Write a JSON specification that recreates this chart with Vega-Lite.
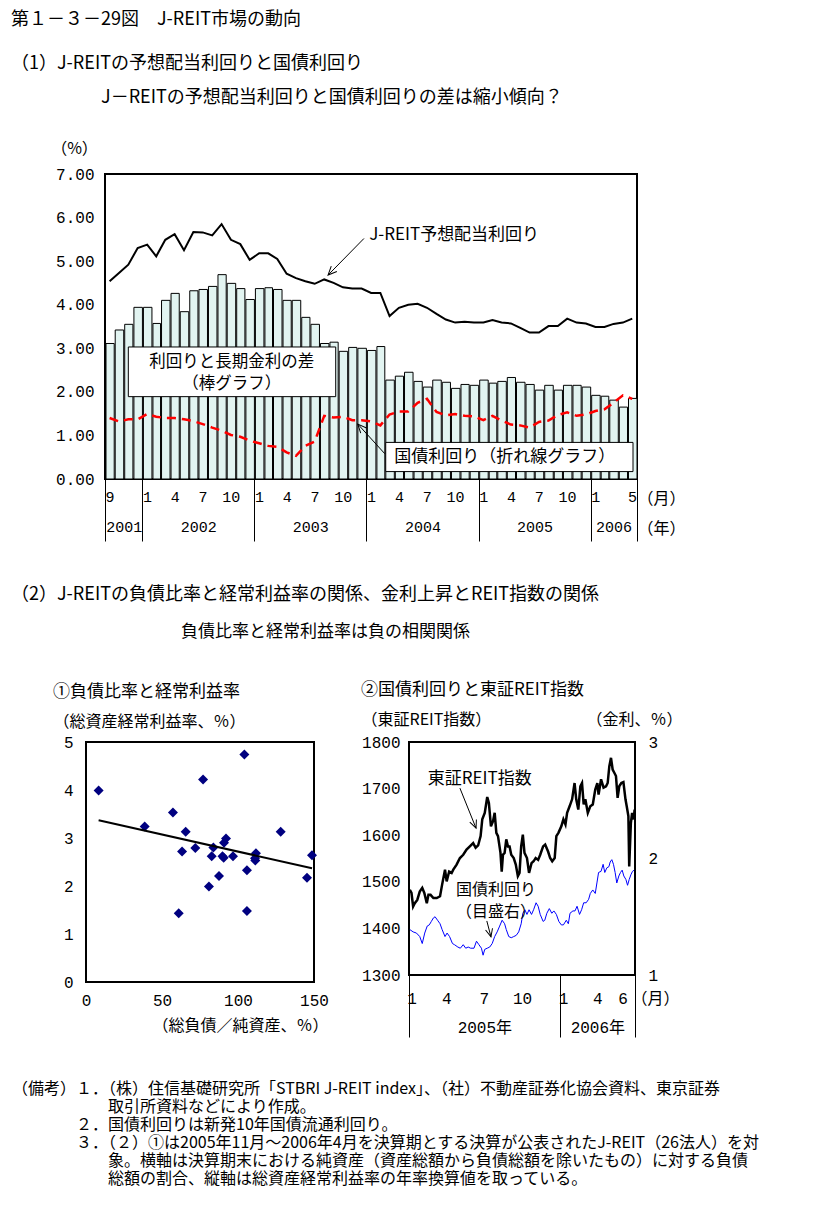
{
  "$schema": "https://vega.github.io/schema/vega-lite/v6.json",
  "background": "white",
  "padding": {"left": 10, "top": 10, "right": 5, "bottom": 5},
  "spacing": 43,
  "title": {
    "text": [
      "（備考）１．（株）住信基礎研究所「STBRI J-REIT index」、（社）不動産証券化協会資料、東京証券",
      "\u200b　　　　　　取引所資料などにより作成。",
      "\u200b　　　　２．国債利回りは新発10年国債流通利回り。",
      "\u200b　　　　３．（２）①は2005年11月～2006年4月を決算期とする決算が公表されたJ-REIT（26法人）を対",
      "\u200b　　　　　　象。横軸は決算期末における純資産（資産総額から負債総額を除いたもの）に対する負債",
      "\u200b　　　　　　総額の割合、縦軸は総資産経常利益率の年率換算値を取っている。"
    ],
    "orient": "bottom", "anchor": "start", "frame": "group", "dx": -74, "offset": 42,
    "fontSize": 16, "lineHeight": 18
  },
  "config": {
    "font": "Noto Sans CJK JP",
    "view": {"stroke": "black", "strokeWidth": 2},
    "axis": {"grid": false, "domain": false, "ticks": false, "labelFont": "Liberation Mono", "labelColor": "black", "labelFontSize": 16, "labelFontWeight": "normal", "titleFont": "Noto Sans CJK JP", "titleFontWeight": "normal", "titleColor": "black", "titleFontSize": 16, "tickColor": "black", "labelOverlap": false, "labelFlush": false},
    "title": {"font": "Noto Sans CJK JP", "fontWeight": "normal", "color": "black", "subtitleFont": "Noto Sans CJK JP", "subtitleColor": "black", "subtitleFontWeight": "normal"},
    "text": {"font": "Noto Sans CJK JP", "color": "black", "fontSize": 17}
  },
  "datasets": {
    "jreit": [
      {"month": "2001-09-01", "gap": 3.11, "reit": 4.54, "jgb": 1.40},
      {"month": "2001-10-01", "gap": 3.42, "reit": 4.73, "jgb": 1.32},
      {"month": "2001-11-01", "gap": 3.55, "reit": 4.92, "jgb": 1.37},
      {"month": "2001-12-01", "gap": 3.94, "reit": 5.30, "jgb": 1.37},
      {"month": "2002-01-01", "gap": 3.94, "reit": 5.38, "jgb": 1.49},
      {"month": "2002-02-01", "gap": 3.57, "reit": 5.11, "jgb": 1.43},
      {"month": "2002-03-01", "gap": 4.10, "reit": 5.49, "jgb": 1.40},
      {"month": "2002-04-01", "gap": 4.26, "reit": 5.62, "jgb": 1.40},
      {"month": "2002-05-01", "gap": 3.84, "reit": 5.25, "jgb": 1.37},
      {"month": "2002-06-01", "gap": 4.32, "reit": 5.67, "jgb": 1.33},
      {"month": "2002-07-01", "gap": 4.35, "reit": 5.66, "jgb": 1.26},
      {"month": "2002-08-01", "gap": 4.42, "reit": 5.59, "jgb": 1.18},
      {"month": "2002-09-01", "gap": 4.69, "reit": 5.85, "jgb": 1.11},
      {"month": "2002-10-01", "gap": 4.49, "reit": 5.49, "jgb": 1.01},
      {"month": "2002-11-01", "gap": 4.37, "reit": 5.39, "jgb": 0.97},
      {"month": "2002-12-01", "gap": 4.12, "reit": 5.03, "jgb": 0.88},
      {"month": "2003-01-01", "gap": 4.37, "reit": 5.18, "jgb": 0.82},
      {"month": "2003-02-01", "gap": 4.39, "reit": 5.18, "jgb": 0.76},
      {"month": "2003-03-01", "gap": 4.35, "reit": 5.05, "jgb": 0.74},
      {"month": "2003-04-01", "gap": 4.10, "reit": 4.71, "jgb": 0.61},
      {"month": "2003-05-01", "gap": 4.10, "reit": 4.61, "jgb": 0.53},
      {"month": "2003-06-01", "gap": 3.71, "reit": 4.54, "jgb": 0.76},
      {"month": "2003-07-01", "gap": 3.55, "reit": 4.48, "jgb": 0.86},
      {"month": "2003-08-01", "gap": 3.11, "reit": 4.58, "jgb": 1.45},
      {"month": "2003-09-01", "gap": 3.14, "reit": 4.50, "jgb": 1.41},
      {"month": "2003-10-01", "gap": 2.93, "reit": 4.40, "jgb": 1.43},
      {"month": "2003-11-01", "gap": 3.02, "reit": 4.37, "jgb": 1.35},
      {"month": "2003-12-01", "gap": 3.00, "reit": 4.37, "jgb": 1.35},
      {"month": "2004-01-01", "gap": 2.95, "reit": 4.27, "jgb": 1.32},
      {"month": "2004-02-01", "gap": 3.04, "reit": 4.27, "jgb": 1.23},
      {"month": "2004-03-01", "gap": 2.27, "reit": 3.74, "jgb": 1.48},
      {"month": "2004-04-01", "gap": 2.36, "reit": 3.93, "jgb": 1.55},
      {"month": "2004-05-01", "gap": 2.45, "reit": 4.00, "jgb": 1.55},
      {"month": "2004-06-01", "gap": 2.24, "reit": 4.02, "jgb": 1.75},
      {"month": "2004-07-01", "gap": 2.11, "reit": 3.93, "jgb": 1.84},
      {"month": "2004-08-01", "gap": 2.27, "reit": 3.79, "jgb": 1.54},
      {"month": "2004-09-01", "gap": 2.22, "reit": 3.66, "jgb": 1.46},
      {"month": "2004-10-01", "gap": 2.08, "reit": 3.59, "jgb": 1.49},
      {"month": "2004-11-01", "gap": 2.17, "reit": 3.61, "jgb": 1.45},
      {"month": "2004-12-01", "gap": 2.15, "reit": 3.59, "jgb": 1.44},
      {"month": "2005-01-01", "gap": 2.27, "reit": 3.59, "jgb": 1.35},
      {"month": "2005-02-01", "gap": 2.20, "reit": 3.65, "jgb": 1.45},
      {"month": "2005-03-01", "gap": 2.24, "reit": 3.59, "jgb": 1.34},
      {"month": "2005-04-01", "gap": 2.33, "reit": 3.57, "jgb": 1.25},
      {"month": "2005-05-01", "gap": 2.22, "reit": 3.47, "jgb": 1.23},
      {"month": "2005-06-01", "gap": 2.17, "reit": 3.36, "jgb": 1.18},
      {"month": "2005-07-01", "gap": 2.04, "reit": 3.36, "jgb": 1.31},
      {"month": "2005-08-01", "gap": 2.15, "reit": 3.51, "jgb": 1.34},
      {"month": "2005-09-01", "gap": 2.04, "reit": 3.51, "jgb": 1.47},
      {"month": "2005-10-01", "gap": 2.15, "reit": 3.68, "jgb": 1.53},
      {"month": "2005-11-01", "gap": 2.15, "reit": 3.59, "jgb": 1.45},
      {"month": "2005-12-01", "gap": 2.11, "reit": 3.57, "jgb": 1.48},
      {"month": "2006-01-01", "gap": 1.92, "reit": 3.49, "jgb": 1.56},
      {"month": "2006-02-01", "gap": 1.90, "reit": 3.49, "jgb": 1.60},
      {"month": "2006-03-01", "gap": 1.81, "reit": 3.56, "jgb": 1.75},
      {"month": "2006-04-01", "gap": 1.65, "reit": 3.59, "jgb": 1.92},
      {"month": "2006-05-01", "gap": 1.85, "reit": 3.68, "jgb": 1.84}
    ],
    "scatter": [
      {"debt": 8.3, "roa": 3.99}, {"debt": 38.6, "roa": 3.24}, {"debt": 57.2, "roa": 3.53},
      {"debt": 77.0, "roa": 4.22}, {"debt": 104.2, "roa": 4.74}, {"debt": 65.6, "roa": 3.13},
      {"debt": 63.2, "roa": 2.72}, {"debt": 61.0, "roa": 1.43}, {"debt": 71.9, "roa": 2.79},
      {"debt": 80.9, "roa": 1.99}, {"debt": 82.7, "roa": 2.62}, {"debt": 83.8, "roa": 2.80},
      {"debt": 87.5, "roa": 2.21}, {"debt": 90.6, "roa": 2.59}, {"debt": 89.8, "roa": 2.62},
      {"debt": 90.8, "roa": 2.90}, {"debt": 92.1, "roa": 2.99}, {"debt": 96.7, "roa": 2.62},
      {"debt": 105.9, "roa": 2.33}, {"debt": 105.9, "roa": 1.48}, {"debt": 111.2, "roa": 2.58},
      {"debt": 111.8, "roa": 2.68}, {"debt": 111.4, "roa": 2.53}, {"debt": 128.1, "roa": 3.13},
      {"debt": 145.4, "roa": 2.17}, {"debt": 148.7, "roa": 2.64}
    ],
    "trend": [{"debt": 8.3, "roa": 3.37}, {"debt": 148.7, "roa": 2.37}],
    "reitidx": [
      {"date": "2005-01-03", "idx": 1483}, {"date": "2005-01-07", "idx": 1476}, {"date": "2005-01-11", "idx": 1447},
      {"date": "2005-01-15", "idx": 1454}, {"date": "2005-01-21", "idx": 1461}, {"date": "2005-01-27", "idx": 1479},
      {"date": "2005-02-02", "idx": 1487}, {"date": "2005-02-07", "idx": 1476}, {"date": "2005-02-13", "idx": 1454},
      {"date": "2005-02-17", "idx": 1472}, {"date": "2005-02-22", "idx": 1472}, {"date": "2005-03-01", "idx": 1465},
      {"date": "2005-03-09", "idx": 1465}, {"date": "2005-03-17", "idx": 1469}, {"date": "2005-03-22", "idx": 1494},
      {"date": "2005-03-29", "idx": 1526}, {"date": "2005-04-02", "idx": 1501}, {"date": "2005-04-08", "idx": 1522},
      {"date": "2005-04-14", "idx": 1519}, {"date": "2005-04-18", "idx": 1526}, {"date": "2005-04-26", "idx": 1537},
      {"date": "2005-05-04", "idx": 1551}, {"date": "2005-05-12", "idx": 1558}, {"date": "2005-05-20", "idx": 1569},
      {"date": "2005-05-28", "idx": 1576}, {"date": "2005-06-05", "idx": 1583}, {"date": "2005-06-11", "idx": 1573},
      {"date": "2005-06-17", "idx": 1578}, {"date": "2005-06-23", "idx": 1598}, {"date": "2005-06-27", "idx": 1634},
      {"date": "2005-07-03", "idx": 1648}, {"date": "2005-07-09", "idx": 1682}, {"date": "2005-07-13", "idx": 1669},
      {"date": "2005-07-18", "idx": 1619}, {"date": "2005-07-23", "idx": 1630}, {"date": "2005-07-27", "idx": 1648},
      {"date": "2005-07-31", "idx": 1605}, {"date": "2005-08-04", "idx": 1598}, {"date": "2005-08-10", "idx": 1562},
      {"date": "2005-08-13", "idx": 1522}, {"date": "2005-08-16", "idx": 1558}, {"date": "2005-08-20", "idx": 1562},
      {"date": "2005-08-24", "idx": 1591}, {"date": "2005-08-28", "idx": 1576}, {"date": "2005-09-01", "idx": 1576},
      {"date": "2005-09-05", "idx": 1558}, {"date": "2005-09-11", "idx": 1551}, {"date": "2005-09-16", "idx": 1537},
      {"date": "2005-09-21", "idx": 1512}, {"date": "2005-09-25", "idx": 1519}, {"date": "2005-09-29", "idx": 1576},
      {"date": "2005-10-03", "idx": 1601}, {"date": "2005-10-07", "idx": 1562}, {"date": "2005-10-13", "idx": 1551},
      {"date": "2005-10-18", "idx": 1519}, {"date": "2005-10-24", "idx": 1540}, {"date": "2005-10-29", "idx": 1544},
      {"date": "2005-11-03", "idx": 1551}, {"date": "2005-11-09", "idx": 1547}, {"date": "2005-11-14", "idx": 1558},
      {"date": "2005-11-21", "idx": 1576}, {"date": "2005-11-26", "idx": 1580}, {"date": "2005-12-03", "idx": 1565},
      {"date": "2005-12-08", "idx": 1551}, {"date": "2005-12-13", "idx": 1544}, {"date": "2005-12-19", "idx": 1551},
      {"date": "2005-12-23", "idx": 1598}, {"date": "2005-12-28", "idx": 1605}, {"date": "2006-01-04", "idx": 1619},
      {"date": "2006-01-09", "idx": 1634}, {"date": "2006-01-14", "idx": 1623}, {"date": "2006-01-18", "idx": 1648},
      {"date": "2006-01-24", "idx": 1662}, {"date": "2006-01-30", "idx": 1677}, {"date": "2006-02-05", "idx": 1712},
      {"date": "2006-02-09", "idx": 1677}, {"date": "2006-02-14", "idx": 1655}, {"date": "2006-02-19", "idx": 1705},
      {"date": "2006-02-23", "idx": 1712}, {"date": "2006-02-27", "idx": 1666}, {"date": "2006-03-03", "idx": 1677},
      {"date": "2006-03-09", "idx": 1648}, {"date": "2006-03-15", "idx": 1662}, {"date": "2006-03-21", "idx": 1666},
      {"date": "2006-03-27", "idx": 1698}, {"date": "2006-04-01", "idx": 1712}, {"date": "2006-04-04", "idx": 1687},
      {"date": "2006-04-10", "idx": 1720}, {"date": "2006-04-16", "idx": 1702}, {"date": "2006-04-22", "idx": 1705},
      {"date": "2006-04-26", "idx": 1712}, {"date": "2006-04-30", "idx": 1748}, {"date": "2006-05-04", "idx": 1766},
      {"date": "2006-05-08", "idx": 1741}, {"date": "2006-05-12", "idx": 1734}, {"date": "2006-05-16", "idx": 1727},
      {"date": "2006-05-20", "idx": 1680}, {"date": "2006-05-24", "idx": 1705}, {"date": "2006-05-29", "idx": 1712},
      {"date": "2006-06-03", "idx": 1714}, {"date": "2006-06-08", "idx": 1677}, {"date": "2006-06-11", "idx": 1662},
      {"date": "2006-06-15", "idx": 1641}, {"date": "2006-06-17", "idx": 1533}, {"date": "2006-06-21", "idx": 1626},
      {"date": "2006-06-24", "idx": 1648}, {"date": "2006-06-28", "idx": 1634}, {"date": "2006-06-30", "idx": 1655}
    ],
    "jgb10": [
      {"date": "2005-01-03", "rate": 1.39}, {"date": "2005-01-11", "rate": 1.37}, {"date": "2005-01-19", "rate": 1.36},
      {"date": "2005-01-27", "rate": 1.33}, {"date": "2005-02-02", "rate": 1.27}, {"date": "2005-02-08", "rate": 1.36},
      {"date": "2005-02-14", "rate": 1.42}, {"date": "2005-02-19", "rate": 1.43}, {"date": "2005-02-24", "rate": 1.46},
      {"date": "2005-03-01", "rate": 1.49}, {"date": "2005-03-05", "rate": 1.50}, {"date": "2005-03-11", "rate": 1.47},
      {"date": "2005-03-17", "rate": 1.44}, {"date": "2005-03-22", "rate": 1.39}, {"date": "2005-03-29", "rate": 1.33},
      {"date": "2005-04-03", "rate": 1.36}, {"date": "2005-04-09", "rate": 1.33}, {"date": "2005-04-16", "rate": 1.27},
      {"date": "2005-04-21", "rate": 1.26}, {"date": "2005-04-29", "rate": 1.24}, {"date": "2005-05-05", "rate": 1.23},
      {"date": "2005-05-12", "rate": 1.26}, {"date": "2005-05-18", "rate": 1.23}, {"date": "2005-05-24", "rate": 1.24},
      {"date": "2005-05-30", "rate": 1.23}, {"date": "2005-06-07", "rate": 1.23}, {"date": "2005-06-13", "rate": 1.29},
      {"date": "2005-06-19", "rate": 1.26}, {"date": "2005-06-25", "rate": 1.23}, {"date": "2005-06-29", "rate": 1.17},
      {"date": "2005-07-03", "rate": 1.22}, {"date": "2005-07-09", "rate": 1.23}, {"date": "2005-07-15", "rate": 1.24},
      {"date": "2005-07-21", "rate": 1.27}, {"date": "2005-07-27", "rate": 1.33}, {"date": "2005-08-02", "rate": 1.37},
      {"date": "2005-08-08", "rate": 1.42}, {"date": "2005-08-14", "rate": 1.47}, {"date": "2005-08-20", "rate": 1.44},
      {"date": "2005-08-24", "rate": 1.39}, {"date": "2005-08-30", "rate": 1.33}, {"date": "2005-09-05", "rate": 1.32},
      {"date": "2005-09-11", "rate": 1.33}, {"date": "2005-09-17", "rate": 1.34}, {"date": "2005-09-23", "rate": 1.37},
      {"date": "2005-09-29", "rate": 1.44}, {"date": "2005-10-03", "rate": 1.53}, {"date": "2005-10-08", "rate": 1.56},
      {"date": "2005-10-13", "rate": 1.52}, {"date": "2005-10-18", "rate": 1.56}, {"date": "2005-10-24", "rate": 1.52},
      {"date": "2005-10-29", "rate": 1.56}, {"date": "2005-11-04", "rate": 1.62}, {"date": "2005-11-09", "rate": 1.59},
      {"date": "2005-11-14", "rate": 1.52}, {"date": "2005-11-21", "rate": 1.46}, {"date": "2005-11-25", "rate": 1.47},
      {"date": "2005-11-30", "rate": 1.53}, {"date": "2005-12-06", "rate": 1.57}, {"date": "2005-12-12", "rate": 1.53},
      {"date": "2005-12-17", "rate": 1.55}, {"date": "2005-12-23", "rate": 1.52}, {"date": "2005-12-29", "rate": 1.46},
      {"date": "2006-01-04", "rate": 1.43}, {"date": "2006-01-09", "rate": 1.43}, {"date": "2006-01-16", "rate": 1.47},
      {"date": "2006-01-21", "rate": 1.44}, {"date": "2006-01-25", "rate": 1.53}, {"date": "2006-02-01", "rate": 1.55},
      {"date": "2006-02-06", "rate": 1.55}, {"date": "2006-02-11", "rate": 1.59}, {"date": "2006-02-17", "rate": 1.52},
      {"date": "2006-02-22", "rate": 1.56}, {"date": "2006-02-27", "rate": 1.62}, {"date": "2006-03-05", "rate": 1.62},
      {"date": "2006-03-11", "rate": 1.65}, {"date": "2006-03-15", "rate": 1.70}, {"date": "2006-03-21", "rate": 1.73},
      {"date": "2006-03-27", "rate": 1.70}, {"date": "2006-03-31", "rate": 1.79}, {"date": "2006-04-04", "rate": 1.88},
      {"date": "2006-04-10", "rate": 1.89}, {"date": "2006-04-15", "rate": 1.95}, {"date": "2006-04-19", "rate": 1.88},
      {"date": "2006-04-24", "rate": 1.92}, {"date": "2006-04-29", "rate": 1.93}, {"date": "2006-05-02", "rate": 1.97},
      {"date": "2006-05-06", "rate": 1.99}, {"date": "2006-05-10", "rate": 1.95}, {"date": "2006-05-14", "rate": 1.88},
      {"date": "2006-05-18", "rate": 1.79}, {"date": "2006-05-23", "rate": 1.85}, {"date": "2006-05-27", "rate": 1.88},
      {"date": "2006-05-31", "rate": 1.90}, {"date": "2006-06-04", "rate": 1.85}, {"date": "2006-06-09", "rate": 1.82},
      {"date": "2006-06-13", "rate": 1.77}, {"date": "2006-06-17", "rate": 1.82}, {"date": "2006-06-21", "rate": 1.86},
      {"date": "2006-06-25", "rate": 1.89}, {"date": "2006-06-29", "rate": 1.90}
    ]
  },
  "vconcat": [
    {
      "bounds": "flush",
      "spacing": 0,
      "hconcat": [
        {
          "width": 19, "height": 1,
          "view": {"stroke": null},
          "data": {"values": []},
          "mark": {"type": "point"}
        },
        {
          "width": 532, "height": 305,
          "title": {
            "text": "第１－３－29図　J-REIT市場の動向",
            "subtitle": ["（1）J-REITの予想配当利回りと国債利回り", "\u200b　　　　　J－REITの予想配当利回りと国債利回りの差は縮小傾向？"],
            "anchor": "start", "frame": "group", "dx": -94,
            "fontSize": 18, "subtitleFontSize": 18, "subtitlePadding": 26, "subtitleLineHeight": 34, "offset": 33
          },
          "resolve": {"axis": {"x": "independent"}},
          "layer": [
            {
              "data": {"name": "jreit"},
              "mark": {"type": "bar", "fill": "#e2f4f1", "stroke": "black", "strokeWidth": 1},
              "encoding": {
                "x": {"field": "month", "type": "temporal", "timeUnit": "utcyearmonth",
                  "scale": {"domain": [{"year": 2001, "month": 9, "date": 1, "utc": true}, {"year": 2006, "month": 6, "date": 1, "utc": true}]},
                  "axis": {"orient": "bottom", "labelExpr": "utcmonth(datum.value) + 1", "labelPadding": 10, "labelFontSize": 15, "tickCount": 40,
                    "values": [
                      {"year": 2001, "month": 9, "date": 16, "utc": true},
                      {"year": 2002, "month": 1, "date": 16, "utc": true}, {"year": 2002, "month": 4, "date": 16, "utc": true}, {"year": 2002, "month": 7, "date": 16, "utc": true}, {"year": 2002, "month": 10, "date": 16, "utc": true},
                      {"year": 2003, "month": 1, "date": 16, "utc": true}, {"year": 2003, "month": 4, "date": 16, "utc": true}, {"year": 2003, "month": 7, "date": 16, "utc": true}, {"year": 2003, "month": 10, "date": 16, "utc": true},
                      {"year": 2004, "month": 1, "date": 16, "utc": true}, {"year": 2004, "month": 4, "date": 16, "utc": true}, {"year": 2004, "month": 7, "date": 16, "utc": true}, {"year": 2004, "month": 10, "date": 16, "utc": true},
                      {"year": 2005, "month": 1, "date": 16, "utc": true}, {"year": 2005, "month": 4, "date": 16, "utc": true}, {"year": 2005, "month": 7, "date": 16, "utc": true}, {"year": 2005, "month": 10, "date": 16, "utc": true},
                      {"year": 2006, "month": 1, "date": 16, "utc": true}, {"year": 2006, "month": 5, "date": 16, "utc": true}
                    ],
                    "title": "（月）", "titleAngle": 0, "titleX": 556, "titleY": 19, "titleAlign": "center", "titleBaseline": "middle"}},
                "y": {"field": "gap", "type": "quantitative", "scale": {"domain": [0, 7], "nice": false},
                  "axis": {"values": [0, 1, 2, 3, 4, 5, 6, 7], "tickCount": 20, "format": ".2f", "labelPadding": 11, "title": "（%）", "titleAngle": 0, "titleX": -31, "titleY": -26, "titleAlign": "center", "titleBaseline": "middle"}}
              }
            },
            {
              "data": {"name": "jreit"},
              "mark": {"type": "line", "color": "black", "strokeWidth": 2},
              "encoding": {
                "x": {"field": "month", "type": "temporal", "timeUnit": "utcyearmonth", "bandPosition": 0.5,
                  "axis": {"orient": "bottom", "labels": false, "ticks": true, "tickSize": 62, "tickWidth": 1, "tickColor": "black", "title": null, "tickCount": 40,
                    "values": [
                      {"year": 2001, "month": 9, "date": 1, "utc": true}, {"year": 2002, "month": 1, "date": 1, "utc": true},
                      {"year": 2003, "month": 1, "date": 1, "utc": true}, {"year": 2004, "month": 1, "date": 1, "utc": true},
                      {"year": 2005, "month": 1, "date": 1, "utc": true}, {"year": 2006, "month": 1, "date": 1, "utc": true},
                      {"year": 2006, "month": 6, "date": 1, "utc": true}
                    ]}},
                "y": {"field": "reit", "type": "quantitative"}
              }
            },
            {
              "data": {"name": "jreit"},
              "mark": {"type": "line", "color": "#ff0000", "strokeWidth": 2.5, "strokeDash": [9, 6]},
              "encoding": {
                "x": {"field": "month", "type": "temporal", "timeUnit": "utcyearmonth", "bandPosition": 0.5,
                  "axis": {"orient": "bottom", "labelExpr": "utcyear(datum.value)", "labelPadding": 40, "labelFontSize": 15, "tickCount": 40,
                    "values": [
                      {"year": 2001, "month": 11, "date": 1, "utc": true}, {"year": 2002, "month": 7, "date": 2, "utc": true},
                      {"year": 2003, "month": 7, "date": 2, "utc": true}, {"year": 2004, "month": 7, "date": 2, "utc": true},
                      {"year": 2005, "month": 7, "date": 2, "utc": true}, {"year": 2006, "month": 3, "date": 16, "utc": true}
                    ],
                    "title": "（年）", "titleAngle": 0, "titleX": 556, "titleY": 49, "titleAlign": "center", "titleBaseline": "middle"}},
                "y": {"field": "jgb", "type": "quantitative"}
              }
            },
            {
              "data": {"values": [{"d": "2001-11-16", "d2": "2003-09-23", "v": 1.89, "v2": 3.03}]},
              "mark": {"type": "rect", "fill": "white", "stroke": "black", "strokeWidth": 1},
              "encoding": {
                "x": {"field": "d", "type": "temporal", "timeUnit": "utcyearmonthdate", "axis": null},
                "x2": {"field": "d2", "timeUnit": "utcyearmonthdate"},
                "y": {"field": "v", "type": "quantitative"},
                "y2": {"field": "v2"}
              }
            },
            {
              "data": {"values": [{"d": "2002-10-19", "v": 2.68, "t": "利回りと長期金利の差"}, {"d": "2002-10-19", "v": 2.17, "t": "（棒グラフ）"}]},
              "mark": {"type": "text", "align": "center", "baseline": "middle", "fontSize": 16.5},
              "encoding": {
                "x": {"field": "d", "type": "temporal", "timeUnit": "utcyearmonthdate", "axis": null},
                "y": {"field": "v", "type": "quantitative"},
                "text": {"field": "t"}
              }
            },
            {
              "data": {"values": [{"d": "2004-03-04", "d2": "2006-05-19", "v": 0.17, "v2": 0.84}]},
              "mark": {"type": "rect", "fill": "white", "stroke": "black", "strokeWidth": 1},
              "encoding": {
                "x": {"field": "d", "type": "temporal", "timeUnit": "utcyearmonthdate", "axis": null},
                "x2": {"field": "d2", "timeUnit": "utcyearmonthdate"},
                "y": {"field": "v", "type": "quantitative"},
                "y2": {"field": "v2"}
              }
            },
            {
              "data": {"values": [{"d": "2004-04-01", "v": 0.50, "t": "国債利回り（折れ線グラフ）"}]},
              "mark": {"type": "text", "align": "left", "baseline": "middle", "fontSize": 17},
              "encoding": {
                "x": {"field": "d", "type": "temporal", "timeUnit": "utcyearmonthdate", "axis": null},
                "y": {"field": "v", "type": "quantitative"},
                "text": {"field": "t"}
              }
            },
            {
              "data": {"values": [{"d": "2004-01-10", "v": 5.61, "t": "J-REIT予想配当利回り"}]},
              "mark": {"type": "text", "align": "left", "baseline": "middle", "fontSize": 17},
              "encoding": {
                "x": {"field": "d", "type": "temporal", "timeUnit": "utcyearmonthdate", "axis": null},
                "y": {"field": "v", "type": "quantitative"},
                "text": {"field": "t"}
              }
            },
            {
              "data": {"values": [{"d": "2003-12-24", "v": 5.52, "d2": "2003-08-29", "v2": 4.68}, {"d": "2004-03-01", "v": 0.58, "d2": "2003-12-04", "v2": 1.26}]},
              "mark": {"type": "rule", "color": "black", "strokeWidth": 1},
              "encoding": {
                "x": {"field": "d", "type": "temporal", "timeUnit": "utcyearmonthdate", "axis": null},
                "x2": {"field": "d2", "timeUnit": "utcyearmonthdate"},
                "y": {"field": "v", "type": "quantitative"},
                "y2": {"field": "v2"}
              }
            },
            {
              "data": {"values": [{"d": "2003-08-29", "v": 4.68}]},
              "mark": {"type": "point", "shape": "M-0.45,1L0,0L0.45,1", "filled": false, "stroke": "black", "strokeWidth": 1, "size": 300, "opacity": 1, "angle": 224},
              "encoding": {
                "x": {"field": "d", "type": "temporal", "timeUnit": "utcyearmonthdate", "axis": null},
                "y": {"field": "v", "type": "quantitative"}
              }
            },
            {
              "data": {"values": [{"d": "2003-12-04", "v": 1.26}]},
              "mark": {"type": "point", "shape": "M-0.45,1L0,0L0.45,1", "filled": false, "stroke": "black", "strokeWidth": 1, "size": 300, "opacity": 1, "angle": 318},
              "encoding": {
                "x": {"field": "d", "type": "temporal", "timeUnit": "utcyearmonthdate", "axis": null},
                "y": {"field": "v", "type": "quantitative"}
              }
            }
          ]
        }
      ]
    },
    {
      "title": {
        "text": "（2）J-REITの負債比率と経常利益率の関係、金利上昇とREIT指数の関係",
        "subtitle": "\u200b　　　　　　　　　　負債比率と経常利益率は負の相関関係",
        "anchor": "start", "frame": "group", "dx": -75,
        "fontSize": 18, "subtitleFontSize": 17, "subtitlePadding": 20, "offset": 40
      },
      "spacing": 30,
      "hconcat": [
        {
          "width": 228, "height": 240,
          "title": {"text": "①負債比率と経常利益率", "anchor": "start", "frame": "group", "dx": -33, "fontSize": 17, "offset": 12},
          "layer": [
            {
              "data": {"name": "scatter"},
              "mark": {"type": "point", "shape": "diamond", "filled": true, "color": "#000080", "size": 100, "opacity": 1},
              "encoding": {
                "x": {"field": "debt", "type": "quantitative", "scale": {"domain": [0, 150], "nice": false},
                  "axis": {"values": [0, 50, 100, 150], "tickCount": 10, "labelExpr": "'' + datum.value", "labelPadding": 10, "title": "（総負債／純資産、％）", "titleX": 154, "titleY": 43, "titleAlign": "center", "titleBaseline": "middle"}},
                "y": {"field": "roa", "type": "quantitative", "scale": {"domain": [0, 5], "nice": false},
                  "axis": {"values": [0, 1, 2, 3, 4, 5], "tickCount": 10, "labelExpr": "'' + datum.value", "labelPadding": 13, "title": "（総資産経常利益率、％）", "titleAngle": 0, "titleX": -33, "titleY": -21, "titleAlign": "left", "titleBaseline": "middle"}}
              }
            },
            {
              "data": {"name": "trend"},
              "mark": {"type": "line", "color": "black", "strokeWidth": 2},
              "encoding": {
                "x": {"field": "debt", "type": "quantitative"},
                "y": {"field": "roa", "type": "quantitative"}
              }
            }
          ]
        },
        {
          "width": 226, "height": 233,
          "title": {"text": "②国債利回りと東証REIT指数", "anchor": "start", "frame": "group", "dx": -48, "fontSize": 17, "offset": 12},
          "resolve": {"scale": {"y": "independent"}, "axis": {"x": "independent", "y": "independent"}},
          "layer": [
            {
              "layer": [
                {
                  "data": {"name": "reitidx"},
                  "mark": {"type": "line", "color": "black", "strokeWidth": 2.5},
                  "encoding": {
                    "x": {"field": "date", "type": "temporal", "timeUnit": "utcyearmonthdate",
                      "scale": {"domain": [{"year": 2005, "month": 1, "date": 1, "utc": true}, {"year": 2006, "month": 7, "date": 1, "utc": true}]},
                      "axis": {"orient": "bottom", "labelExpr": "utcmonth(datum.value) + 1", "labelPadding": 15, "tickCount": 30,
                        "values": [
                          {"year": 2005, "month": 1, "date": 7, "utc": true}, {"year": 2005, "month": 4, "date": 1, "utc": true},
                          {"year": 2005, "month": 7, "date": 1, "utc": true}, {"year": 2005, "month": 10, "date": 1, "utc": true},
                          {"year": 2006, "month": 1, "date": 8, "utc": true}, {"year": 2006, "month": 4, "date": 1, "utc": true},
                          {"year": 2006, "month": 6, "date": 1, "utc": true}
                        ],
                        "title": "（月）", "titleAngle": 0, "titleX": 246, "titleY": 23, "titleAlign": "center", "titleBaseline": "middle"}},
                    "y": {"field": "idx", "type": "quantitative", "scale": {"domain": [1300, 1800], "nice": false, "zero": false},
                      "axis": {"orient": "left", "values": [1300, 1400, 1500, 1600, 1700, 1800], "tickCount": 20, "labelExpr": "'' + datum.value", "labelPadding": 9, "title": "（東証REIT指数）", "titleAngle": 0, "titleX": -48, "titleY": -23, "titleAlign": "left", "titleBaseline": "middle"}}
                  }
                },
                {
                  "data": {"values": [{"d": "2005-06-21", "v": 1721, "t": "東証REIT指数"}]},
                  "mark": {"type": "text", "align": "center", "baseline": "middle", "fontSize": 17},
                  "encoding": {
                    "x": {"field": "d", "type": "temporal", "timeUnit": "utcyearmonthdate"},
                    "y": {"field": "v", "type": "quantitative"},
                    "text": {"field": "t"}
                  }
                },
                {
                  "data": {"values": [{"d": "2005-05-04", "v": 1701, "d2": "2005-06-12", "v2": 1615}, {"d": "2005-07-08", "v": 1416, "d2": "2005-07-18", "v2": 1382}]},
                  "mark": {"type": "rule", "color": "black", "strokeWidth": 1},
                  "encoding": {
                    "x": {"field": "d", "type": "temporal", "timeUnit": "utcyearmonthdate"},
                    "x2": {"field": "d2", "timeUnit": "utcyearmonthdate"},
                    "y": {"field": "v", "type": "quantitative"},
                    "y2": {"field": "v2"}
                  }
                },
                {
                  "data": {"values": [{"d": "2005-06-12", "v": 1615}]},
                  "mark": {"type": "point", "shape": "M-0.45,1L0,0L0.45,1", "filled": false, "stroke": "black", "strokeWidth": 1, "size": 250, "opacity": 1, "angle": 158},
                  "encoding": {
                    "x": {"field": "d", "type": "temporal", "timeUnit": "utcyearmonthdate"},
                    "y": {"field": "v", "type": "quantitative"}
                  }
                },
                {
                  "data": {"values": [{"d": "2005-07-18", "v": 1382}]},
                  "mark": {"type": "point", "shape": "M-0.45,1L0,0L0.45,1", "filled": false, "stroke": "black", "strokeWidth": 1, "size": 250, "opacity": 1, "angle": 166},
                  "encoding": {
                    "x": {"field": "d", "type": "temporal", "timeUnit": "utcyearmonthdate"},
                    "y": {"field": "v", "type": "quantitative"}
                  }
                }
              ]
            },
            {
              "data": {"name": "jgb10"},
              "mark": {"type": "line", "color": "#0000ff", "strokeWidth": 1},
              "encoding": {
                "x": {"field": "date", "type": "temporal", "timeUnit": "utcyearmonthdate",
                  "scale": {"domain": [{"year": 2005, "month": 1, "date": 1, "utc": true}, {"year": 2006, "month": 7, "date": 1, "utc": true}]},
                  "axis": {"orient": "bottom", "labels": false, "ticks": true, "tickSize": 62, "tickWidth": 1, "tickColor": "black", "title": null, "tickCount": 30,
                    "values": [{"year": 2005, "month": 1, "date": 1, "utc": true}, {"year": 2006, "month": 1, "date": 1, "utc": true}, {"year": 2006, "month": 7, "date": 1, "utc": true}]}},
                "y": {"field": "rate", "type": "quantitative", "scale": {"domain": [1, 3], "nice": false, "zero": false},
                  "axis": {"orient": "right", "values": [1, 2, 3], "tickCount": 10, "labelExpr": "'' + datum.value", "labelPadding": 13, "title": "（金利、％）", "titleAngle": 0, "titleX": -49, "titleY": -23, "titleAlign": "left", "titleBaseline": "middle"}}
              }
            },
            {
              "data": {"values": [{"d": "2005-07-30", "v": 1482, "t": "国債利回り"}, {"d": "2005-07-30", "v": 1436, "t": "（目盛右）"}]},
              "mark": {"type": "text", "align": "center", "baseline": "middle", "fontSize": 16},
              "encoding": {
                "x": {"field": "d", "type": "temporal", "timeUnit": "utcyearmonthdate",
                  "scale": {"domain": [{"year": 2005, "month": 1, "date": 1, "utc": true}, {"year": 2006, "month": 7, "date": 1, "utc": true}]},
                  "axis": {"orient": "bottom", "labelExpr": "utcyear(datum.value) + '年'", "labelPadding": 44, "labelFont": "Liberation Mono, Noto Sans CJK JP", "title": null, "tickCount": 30,
                    "values": [{"year": 2005, "month": 7, "date": 2, "utc": true}, {"year": 2006, "month": 4, "date": 1, "utc": true}]}},
                "y": {"field": "v", "type": "quantitative", "scale": {"domain": [1300, 1800], "nice": false, "zero": false}, "axis": null},
                "text": {"field": "t"}
              }
            }
          ]
        }
      ]
    }
  ]
}
